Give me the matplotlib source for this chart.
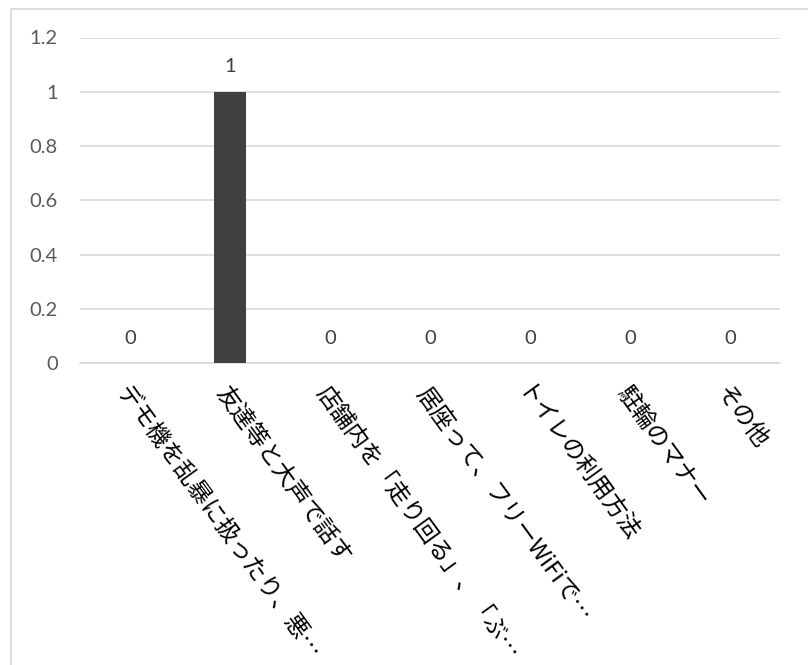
import matplotlib
matplotlib.use('Agg')
import matplotlib.pyplot as plt
from matplotlib.patches import Rectangle

plt.rcParams['font.family'] = ['Noto Sans CJK JP', 'DejaVu Sans']

# Chart data
categories = ['デモ機を乱暴に扱ったり、悪…', '友達等と大声で話す', '店舗内を「走り回る」、「ぶ…',
              '居座って、フリーWiFiで…', 'トイレの利用方法', '駐輪のマナー', 'その他']
values = [0, 1, 0, 0, 0, 0, 0]
yticks = [0, 0.2, 0.4, 0.6, 0.8, 1, 1.2]
ytick_labels = ['0', '0.2', '0.4', '0.6', '0.8', '1', '1.2']

W, H = 808, 665
fig = plt.figure(figsize=(W / 100, H / 100), dpi=100)
ax = fig.add_axes([80 / W, 1 - 363 / H, 700 / W, 325.5 / H])

x = list(range(len(categories)))
ax.bar(x, values, width=0.32, color='#404040', zorder=3)

ax.set_xlim(-0.5, len(categories) - 0.5)
ax.set_ylim(0, 1.2)
ax.set_yticks(yticks)
ax.set_yticklabels(ytick_labels, fontsize=14.5, color='#595959', family=['Lato', 'DejaVu Sans'])
ax.yaxis.grid(True, color='#d9d9d9', linewidth=1.2, zorder=0)
ax.tick_params(axis='y', length=0, pad=16)
ax.tick_params(axis='x', length=0, pad=14)

ax.set_xticks(x)
ax.set_xticklabels(categories, rotation=-54, ha='left', va='top',
                   rotation_mode='anchor', fontsize=17, color='#000000')

for spine in ['top', 'right', 'left']:
    ax.spines[spine].set_visible(False)
ax.spines['bottom'].set_color('#d9d9d9')
ax.spines['bottom'].set_linewidth(1.2)

# Data labels
for xi, v in zip(x, values):
    ax.annotate(str(v), (xi, v), xytext=(0, 18), textcoords='offset points',
                ha='center', va='center', fontsize=14.5, color='#404040',
                family=['Lato', 'DejaVu Sans'])

# Chart border (only the top and left edges show in the crop)
fig.patches.append(Rectangle((10.5 / W, -0.1), 1.2, 1 - 8.5 / H + 0.1, transform=fig.transFigure,
                             fill=False, edgecolor='#d9d9d9', linewidth=1.2))

fig.savefig('out.png', dpi=100)
